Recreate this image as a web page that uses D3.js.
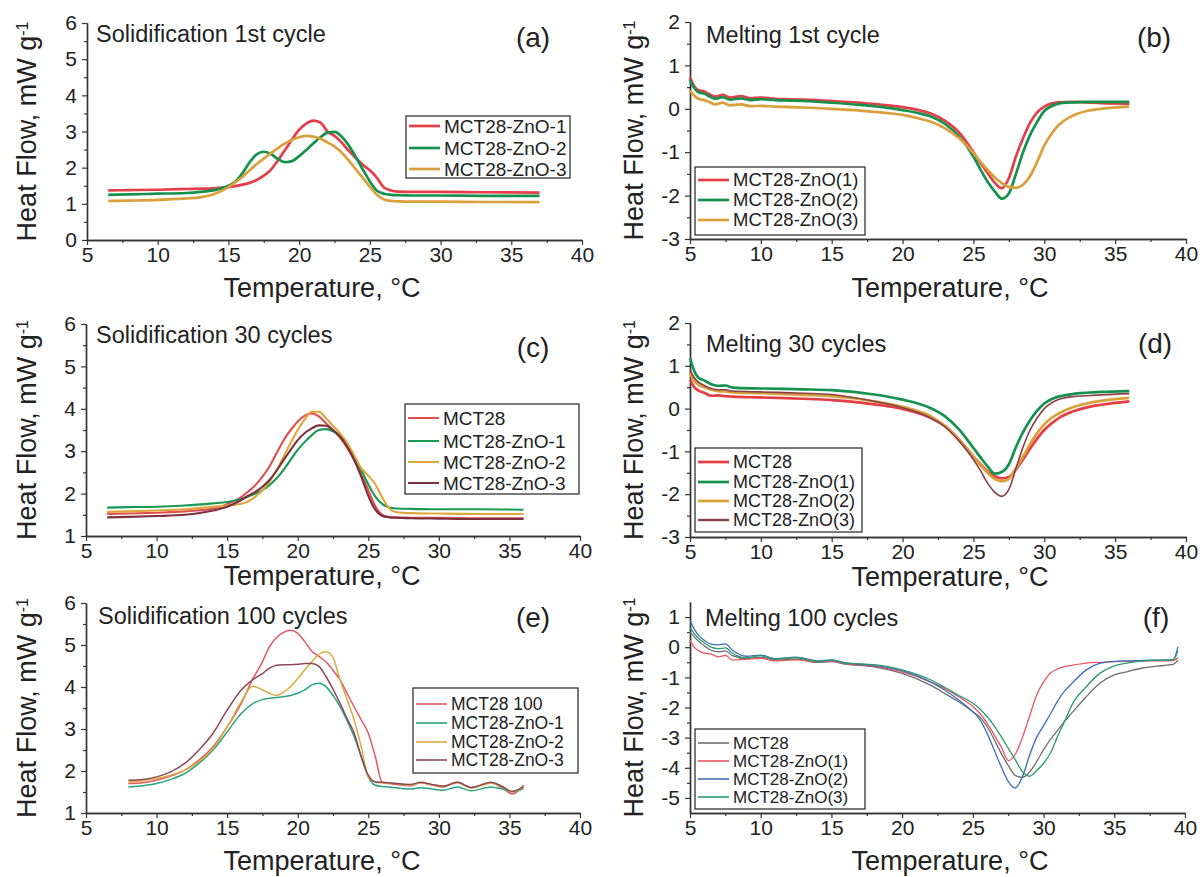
<!DOCTYPE html>
<html>
<head>
<meta charset="utf-8">
<script src="https://cdn.jsdelivr.net/npm/d3@7"></script>
<style>
  body { margin: 0; background: #fff; }
  text { font-family: "Liberation Sans", Arial, sans-serif; fill: #222; }
</style>
</head>
<body>
<div id="chart"></div>
<script>
// (a) Solidification 1st cycle
var tempA = [6.5, 8, 10, 12, 13, 14, 15, 15.5, 16, 16.5, 17, 17.5, 18, 18.5, 19, 19.5, 20, 20.5, 21, 21.5, 22, 22.5, 23, 23.5, 24, 24.5, 25, 25.5, 26, 26.5, 27, 28, 30, 33, 37];
var namesA = ['MCT28-ZnO-1', 'MCT28-ZnO-2', 'MCT28-ZnO-3'];
var flowA1 = [1.37, 1.38, 1.39, 1.41, 1.42, 1.43, 1.46, 1.49, 1.53, 1.58, 1.66, 1.78, 1.94, 2.2, 2.49, 2.78, 3.05, 3.22, 3.3, 3.25, 3.0, 2.88, 2.7, 2.47, 2.27, 2.08, 1.93, 1.72, 1.45, 1.37, 1.34, 1.33, 1.33, 1.32, 1.31];
var flowA2 = [1.25, 1.26, 1.28, 1.3, 1.33, 1.38, 1.5, 1.62, 1.85, 2.15, 2.37, 2.44, 2.38, 2.24, 2.15, 2.18, 2.32, 2.49, 2.67, 2.84, 2.97, 2.99, 2.86, 2.62, 2.3, 1.95, 1.62, 1.36, 1.28, 1.25, 1.24, 1.23, 1.23, 1.22, 1.22];
var flowA3 = [1.08, 1.09, 1.11, 1.15, 1.18, 1.27, 1.46, 1.6, 1.75, 1.93, 2.1, 2.25, 2.4, 2.54, 2.67, 2.77, 2.84, 2.88, 2.86, 2.8, 2.7, 2.59, 2.42, 2.2, 1.96, 1.72, 1.47, 1.25, 1.12, 1.08, 1.07, 1.06, 1.06, 1.05, 1.05];

// (b) Melting 1st cycle
var tempB = [5, 5.3, 5.6, 6, 6.4, 6.8, 7.3, 7.8, 8.6, 9.3, 10, 11, 12, 13, 15, 17, 19, 20, 21, 22, 23, 24, 25, 25.5, 26, 26.5, 27, 27.5, 28, 28.5, 29, 29.5, 30, 30.5, 31, 32, 33, 34, 36];
var namesB = ['MCT28-ZnO(1)', 'MCT28-ZnO(2)', 'MCT28-ZnO(3)'];
var flowB1 = [0.72, 0.52, 0.43, 0.4, 0.33, 0.28, 0.32, 0.26, 0.29, 0.24, 0.26, 0.23, 0.22, 0.21, 0.18, 0.14, 0.08, 0.04, -0.02, -0.11, -0.28, -0.55, -1.0, -1.25, -1.48, -1.7, -1.83, -1.6, -1.1, -0.68, -0.32, -0.08, 0.05, 0.12, 0.15, 0.16, 0.15, 0.13, 0.12];
var flowB2 = [0.66, 0.48, 0.38, 0.35, 0.28, 0.23, 0.27, 0.21, 0.24, 0.2, 0.22, 0.2, 0.19, 0.18, 0.14, 0.09, 0.02, -0.03, -0.09, -0.18, -0.35, -0.64, -1.1, -1.4, -1.68, -1.9, -2.07, -1.95, -1.5, -1.0, -0.6, -0.3, -0.05, 0.06, 0.12, 0.15, 0.16, 0.16, 0.16];
var flowB3 = [0.43, 0.3, 0.23, 0.2, 0.15, 0.1, 0.14, 0.08, 0.1, 0.06, 0.07, 0.05, 0.04, 0.03, 0.0, -0.04, -0.1, -0.14, -0.21, -0.3, -0.45, -0.68, -1.02, -1.22, -1.41, -1.58, -1.71, -1.8, -1.82, -1.75, -1.55, -1.22, -0.85, -0.58, -0.38, -0.16, -0.05, 0.0, 0.05];

// (c) Solidification 30 cycles
var tempC = [6.5, 8, 10, 12, 14, 15, 16, 16.5, 17, 17.5, 18, 18.5, 19, 19.5, 20, 20.5, 21, 21.5, 22, 22.5, 23, 23.5, 24, 24.5, 25, 25.5, 26, 26.5, 27, 28, 30, 33, 36];
var namesC = ['MCT28', 'MCT28-ZnO-1', 'MCT28-ZnO-2', 'MCT28-ZnO-3'];
var flowC1 = [1.52, 1.53, 1.55, 1.58, 1.65, 1.75, 1.92, 2.05, 2.2, 2.4, 2.64, 2.95, 3.26, 3.5, 3.7, 3.84, 3.89, 3.82, 3.66, 3.5, 3.32, 3.08, 2.79, 2.45, 2.08, 1.7, 1.5, 1.45, 1.44, 1.43, 1.43, 1.42, 1.42];
var flowC2 = [1.67, 1.68, 1.69, 1.72, 1.77, 1.8, 1.87, 1.93, 2.0, 2.08, 2.2, 2.36, 2.56, 2.8, 3.03, 3.22, 3.38, 3.5, 3.52, 3.47, 3.36, 3.15, 2.88, 2.55, 2.22, 1.93, 1.75, 1.67, 1.65, 1.64, 1.63, 1.63, 1.62];
var flowC3 = [1.57, 1.58, 1.6, 1.63, 1.69, 1.72, 1.76, 1.82, 1.93, 2.08, 2.28, 2.55, 2.87, 3.2, 3.5, 3.75, 3.93, 3.93, 3.78, 3.6, 3.42, 3.2, 2.9, 2.6, 2.42, 2.22, 1.9, 1.65, 1.56, 1.54, 1.53, 1.52, 1.52];
var flowC4 = [1.44, 1.45, 1.47, 1.5, 1.6, 1.69, 1.85, 1.95, 2.04, 2.16, 2.32, 2.54, 2.79, 3.03, 3.26, 3.43, 3.54, 3.61, 3.6, 3.5, 3.34, 3.11, 2.8, 2.4, 1.95, 1.62, 1.47, 1.44, 1.43, 1.42, 1.41, 1.4, 1.4];

// (d) Melting 30 cycles
var tempD = [5, 5.3, 5.6, 6, 6.5, 7, 7.5, 8, 10, 13, 15, 18, 20, 22, 23, 24, 25, 25.5, 26, 26.5, 27, 27.5, 28, 28.5, 29, 29.5, 30, 30.5, 31, 32, 33, 34, 36];
var namesD = ['MCT28', 'MCT28-ZnO(1)', 'MCT28-ZnO(2)', 'MCT28-ZnO(3)'];
var flowD1 = [0.68, 0.5, 0.42, 0.37, 0.3, 0.31, 0.29, 0.28, 0.26, 0.23, 0.2, 0.1, -0.01, -0.22, -0.41, -0.73, -1.12, -1.3, -1.47, -1.58, -1.63, -1.6, -1.42, -1.19, -0.93, -0.7, -0.5, -0.35, -0.23, -0.07, 0.03, 0.09, 0.17];
var flowD2 = [1.18, 0.88, 0.72, 0.66, 0.57, 0.53, 0.54, 0.49, 0.47, 0.45, 0.43, 0.33, 0.21, 0.01, -0.18, -0.49, -0.92, -1.14, -1.35, -1.52, -1.48, -1.3, -0.9, -0.55, -0.27, -0.05, 0.12, 0.22, 0.28, 0.34, 0.37, 0.39, 0.41];
var flowD3 = [0.83, 0.65, 0.56, 0.5, 0.44, 0.41, 0.4, 0.38, 0.36, 0.32, 0.29, 0.17, 0.04, -0.18, -0.41, -0.74, -1.12, -1.32, -1.5, -1.64, -1.7, -1.64, -1.4, -1.12, -0.83, -0.57, -0.37, -0.22, -0.12, 0.03, 0.12, 0.18, 0.25];
var flowD4 = [0.91, 0.72, 0.62, 0.54, 0.47, 0.44, 0.44, 0.41, 0.39, 0.36, 0.33, 0.17, 0.02, -0.22, -0.43, -0.76, -1.19, -1.45, -1.74, -1.95, -2.05, -1.89, -1.4, -0.9, -0.5, -0.22, 0.0, 0.13, 0.21, 0.28, 0.3, 0.32, 0.35];

// (e) Solidification 100 cycles
var tempE = [8, 9, 10, 11, 12, 13, 14, 15, 16, 16.8, 17.5, 18, 18.5, 19, 19.5, 20, 20.5, 21, 21.5, 22, 22.5, 23, 23.5, 24, 24.5, 25, 25.5, 26, 26.5, 27, 28, 28.7, 29.5, 30.3, 31.3, 32.3, 33.7, 34.5, 35.2, 36];
var namesE = ['MCT28 100', 'MCT28-ZnO-1', 'MCT28-ZnO-2', 'MCT28-ZnO-3'];
var flowE1 = [1.7, 1.72, 1.78, 1.88, 2.02, 2.26, 2.58, 3.05, 3.61, 4.18, 4.6, 4.96, 5.18, 5.3, 5.35, 5.28, 5.08, 4.85, 4.73, 4.6, 4.4, 4.17, 3.85, 3.53, 3.22, 2.9, 2.34, 1.72, 1.7, 1.68, 1.65, 1.72, 1.67, 1.62, 1.73, 1.6, 1.72, 1.6, 1.45, 1.66];
var flowE2 = [1.62, 1.65, 1.7, 1.8, 1.94, 2.18, 2.5, 2.93, 3.37, 3.6, 3.7, 3.73, 3.75, 3.77, 3.8, 3.85, 3.93, 4.05, 4.09, 4.01, 3.8, 3.53, 3.2, 2.82, 2.34, 1.86, 1.66, 1.63, 1.62, 1.6, 1.57, 1.6, 1.57, 1.54, 1.62, 1.53, 1.62, 1.57, 1.5, 1.58];
var flowE3 = [1.74, 1.77, 1.82, 1.9, 2.02, 2.22, 2.54, 3.05, 3.65, 4.02, 3.93, 3.85, 3.8, 3.88, 4.01, 4.2, 4.41, 4.6, 4.78, 4.84, 4.7, 4.17, 3.7, 3.21, 2.58, 1.86, 1.74, 1.72, 1.71, 1.7, 1.66, 1.72, 1.67, 1.63, 1.72, 1.6, 1.71, 1.62, 1.5, 1.62];
var flowE4 = [1.78, 1.8, 1.86, 1.98, 2.18, 2.5, 2.9, 3.45, 3.93, 4.17, 4.32, 4.45, 4.52, 4.53, 4.53, 4.54, 4.56, 4.56, 4.49, 4.25, 3.95, 3.61, 3.25, 2.9, 2.34, 1.9, 1.74, 1.73, 1.72, 1.7, 1.68, 1.73, 1.68, 1.64, 1.73, 1.61, 1.73, 1.63, 1.52, 1.63];

// (f) Melting 100 cycles
var tempF = [5, 5.3, 5.6, 6, 6.5, 7, 7.5, 8, 9, 10, 11, 12.5, 14, 15, 16, 18, 20, 22, 23, 24, 25, 25.5, 26, 26.5, 27, 27.5, 28, 28.5, 29, 29.5, 30, 30.5, 31, 31.5, 32, 33, 34, 35, 36, 37, 38, 39, 39.2, 39.5];
var namesF = ['MCT28', 'MCT28-ZnO(1)', 'MCT28-ZnO(2)', 'MCT28-ZnO(3)'];
var flowF1 = [0.5, 0.35, 0.2, 0.05, -0.1, -0.15, -0.12, -0.28, -0.38, -0.33, -0.43, -0.4, -0.5, -0.48, -0.56, -0.65, -0.87, -1.26, -1.53, -1.81, -2.14, -2.32, -2.63, -3.05, -3.52, -3.92, -4.25, -4.32, -4.15, -3.8, -3.4, -3.05, -2.75, -2.45, -2.18, -1.65, -1.19, -0.92, -0.8, -0.69, -0.63, -0.58, -0.56, -0.43];
var flowF2 = [0.23, 0.0, -0.12, -0.2, -0.23, -0.32, -0.27, -0.42, -0.4, -0.37, -0.45, -0.42, -0.48, -0.46, -0.54, -0.63, -0.82, -1.15, -1.37, -1.64, -1.97, -2.2, -2.52, -2.9, -3.3, -3.76, -3.55, -3.0, -2.3, -1.6, -1.15, -0.85, -0.72, -0.64, -0.6, -0.53, -0.5, -0.48, -0.47, -0.46, -0.45, -0.45, -0.44, -0.36];
var flowF3 = [0.89, 0.6, 0.4, 0.23, 0.1, 0.08, 0.11, -0.1, -0.3, -0.26, -0.38, -0.33, -0.45, -0.42, -0.52, -0.6, -0.78, -1.15, -1.42, -1.75, -2.14, -2.4, -2.85, -3.4, -3.96, -4.45, -4.67, -4.3, -3.6, -3.0, -2.6, -2.2, -1.78, -1.45, -1.2, -0.76, -0.53, -0.47, -0.45, -0.44, -0.43, -0.42, -0.4, 0.02];
var flowF4 = [0.65, 0.45, 0.3, 0.15, 0.0, -0.05, -0.02, -0.2, -0.35, -0.28, -0.4, -0.35, -0.47, -0.43, -0.52, -0.58, -0.75, -1.08, -1.33, -1.6, -1.86, -2.05, -2.3, -2.6, -2.96, -3.35, -3.74, -4.12, -4.28, -4.1, -3.85, -3.5, -2.95, -2.45, -1.92, -1.32, -0.86, -0.62, -0.52, -0.45, -0.43, -0.42, -0.4, -0.12];

var xTicks = [5, 10, 15, 20, 25, 30, 35, 40];
var xMinorTicks = [7.5, 12.5, 17.5, 22.5, 27.5, 32.5, 37.5];

var W = 1200, H = 877;
var svg = d3.select('#chart').append('svg')
    .attr('width', W)
    .attr('height', H)
    .style('background', '#fff');

// layout of the six panels (pixels)
var panels = [
  {title: 'Solidification 1st cycle', label: '(a)', temps: tempA, names: namesA,
   flows: [flowA1, flowA2, flowA3], colors: ['#e63e48', '#14914c', '#d9a03c'],
   widths: [2.7, 2.7, 2.7], legendWidths: [2.7, 2.7, 2.7],
   yDomain: [0, 6], left: 87, right: 582, top: 23, bottom: 240,
   titleX: 96, titleY: 42, labelX: 533, labelY: 37, xTitleX: 322, xTitleY: 297, yTitleX: 27,
   legend: {x: 406, y: 116, w: 164, h: 62, rows: [126, 148, 169], font: 19}},
  {title: 'Melting 1st cycle', label: '(b)', temps: tempB, names: namesB,
   flows: [flowB1, flowB2, flowB3], colors: ['#e63e48', '#14914c', '#d9a03c'],
   widths: [2.7, 2.7, 2.7], legendWidths: [2.7, 2.7, 2.7],
   yDomain: [-3, 2], left: 690, right: 1186, top: 22, bottom: 239,
   titleX: 706, titleY: 43, labelX: 1154, labelY: 37, xTitleX: 950, xTitleY: 297, yTitleX: 634,
   legend: {x: 695, y: 167, w: 170, h: 68, rows: [180, 200, 220], font: 18.5}},
  {title: 'Solidification 30 cycles', label: '(c)', temps: tempC, names: namesC,
   flows: [flowC1, flowC2, flowC3, flowC4], colors: ['#e04e52', '#189a52', '#e0a63a', '#7e2f3c'],
   widths: [2.1, 2.1, 2.1, 2.1], legendWidths: [2, 2, 2, 2],
   yDomain: [1, 6], left: 86, right: 580, top: 324, bottom: 536,
   titleX: 96, titleY: 343, labelX: 533, labelY: 347, xTitleX: 322, xTitleY: 585, yTitleX: 27,
   legend: {x: 405, y: 404, w: 174, h: 90, rows: [418, 441, 462, 483], font: 19}},
  {title: 'Melting 30 cycles', label: '(d)', temps: tempD, names: namesD,
   flows: [flowD1, flowD2, flowD3, flowD4], colors: ['#e63c44', '#14924e', '#d9a038', '#8a4048'],
   widths: [2.7, 2.7, 2.7, 1.6], legendWidths: [2.7, 2.7, 2.7, 2.4],
   yDomain: [-3, 2], left: 690, right: 1186, top: 323, bottom: 537,
   titleX: 706, titleY: 352, labelX: 1155, labelY: 343, xTitleX: 950, xTitleY: 586, yTitleX: 634,
   legend: {x: 695, y: 448, w: 167, h: 84, rows: [462, 482, 501, 520], font: 18}},
  {title: 'Solidification 100 cycles', label: '(e)', temps: tempE, names: namesE,
   flows: [flowE1, flowE2, flowE3, flowE4], colors: ['#e25762', '#27a57c', '#dcaa3c', '#8c4a58'],
   widths: [1.5, 1.5, 1.5, 1.5], legendWidths: [1.6, 1.6, 1.6, 1.6],
   yDomain: [1, 6], left: 86, right: 580, top: 603, bottom: 813,
   titleX: 98, titleY: 624, labelX: 533, labelY: 617, xTitleX: 322, xTitleY: 870, yTitleX: 27,
   legend: {x: 413, y: 688, w: 165, h: 85, rows: [704, 723, 742, 760], font: 17.5}},
  {title: 'Melting 100 cycles', label: '(f)', temps: tempF, names: namesF,
   flows: [flowF1, flowF2, flowF3, flowF4], colors: ['#6e6e6e', '#ea5560', '#3d6fb8', '#2a9a70'],
   widths: [1.3, 1.3, 1.3, 1.3], legendWidths: [1.6, 1.6, 1.6, 1.6],
   yDomain: [-5.5, 1.5], left: 690, right: 1185, top: 602, bottom: 813,
   titleX: 705, titleY: 626, labelX: 1156, labelY: 617, xTitleX: 950, xTitleY: 870, yTitleX: 634,
   legend: {x: 695, y: 729, w: 170, h: 80, rows: [743, 761, 779, 797], font: 17}}
];

function styleAxis(sel) {
  sel.select('.domain').attr('stroke', '#333').attr('stroke-width', 1.4);
  sel.selectAll('.tick line').attr('stroke', '#333').attr('stroke-width', 1.2);
  sel.selectAll('.tick text').style('font-size', '21px').style('fill', '#222');
}

function drawPanel(p) {
  var x = d3.scaleLinear().domain([5, 40]).range([p.left, p.right]);
  var y = d3.scaleLinear().domain(p.yDomain).range([p.bottom, p.top]);
  var g = svg.append('g');

  var lo = Math.ceil(p.yDomain[0]), hi = Math.floor(p.yDomain[1]);
  var yTicks = d3.range(lo, hi + 1);
  var yMinor = d3.range(lo - 0.5, hi + 1, 1).filter(function (v) {
    return v > p.yDomain[0] && v < p.yDomain[1];
  });

  // minor ticks first, majors on top
  g.append('g')
      .attr('transform', 'translate(0,' + p.bottom + ')')
      .call(d3.axisBottom(x).tickValues(xMinorTicks).tickSize(3).tickSizeOuter(0).tickFormat(''))
      .call(styleAxis);
  g.append('g')
      .attr('transform', 'translate(0,' + p.bottom + ')')
      .call(d3.axisBottom(x).tickValues(xTicks).tickSize(5).tickSizeOuter(0).tickPadding(2))
      .call(styleAxis);

  g.append('g')
      .attr('transform', 'translate(' + p.left + ',0)')
      .call(d3.axisLeft(y).tickValues(yMinor).tickSize(3).tickSizeOuter(0).tickFormat(''))
      .call(styleAxis);
  g.append('g')
      .attr('transform', 'translate(' + p.left + ',0)')
      .call(d3.axisLeft(y).tickValues(yTicks).tickSize(5).tickSizeOuter(0).tickPadding(5)
          .tickFormat(function (d) { return String(d); }))
      .call(styleAxis);

  // curves
  var line = d3.line()
      .x(function (d) { return x(d[0]); })
      .y(function (d) { return y(d[1]); })
      .curve(d3.curveMonotoneX);

  p.flows.forEach(function (vals, i) {
    g.append('path')
        .attr('d', line(d3.zip(p.temps, vals)))
        .attr('fill', 'none')
        .attr('stroke', p.colors[i])
        .attr('stroke-width', p.widths[i])
        .attr('stroke-linejoin', 'round');
  });

  // titles
  g.append('text')
      .attr('x', p.titleX).attr('y', p.titleY)
      .style('font-size', '23.5px')
      .text(p.title);
  g.append('text')
      .attr('x', p.labelX).attr('y', p.labelY)
      .attr('dy', '0.35em')
      .attr('text-anchor', 'middle')
      .style('font-size', '28px')
      .text(p.label);

  g.append('text')
      .attr('x', p.xTitleX).attr('y', p.xTitleY)
      .attr('text-anchor', 'middle')
      .style('font-size', '27px')
      .text('Temperature, °C');

  var yt = g.append('text')
      .attr('transform', 'translate(' + p.yTitleX + ',' + ((p.top + p.bottom) / 2) + ') rotate(-90)')
      .attr('text-anchor', 'middle')
      .attr('dy', '0.35em')
      .style('font-size', '27px');
  yt.append('tspan').text('Heat Flow, mW g');
  yt.append('tspan').attr('dy', '-0.55em').style('font-size', '16px').text('-1');

  // legend
  var L = p.legend;
  g.append('rect')
      .attr('x', L.x).attr('y', L.y)
      .attr('width', L.w).attr('height', L.h)
      .attr('fill', '#fff')
      .attr('stroke', '#333')
      .attr('stroke-width', 1.3);
  p.names.forEach(function (name, i) {
    g.append('line')
        .attr('x1', L.x + 3).attr('x2', L.x + 34)
        .attr('y1', L.rows[i]).attr('y2', L.rows[i])
        .attr('stroke', p.colors[i])
        .attr('stroke-width', p.legendWidths[i]);
    g.append('text')
        .attr('x', L.x + 38).attr('y', L.rows[i])
        .attr('dy', '0.35em')
        .style('font-size', L.font + 'px')
        .text(name);
  });
}

panels.forEach(drawPanel);
</script>
</body>
</html>
